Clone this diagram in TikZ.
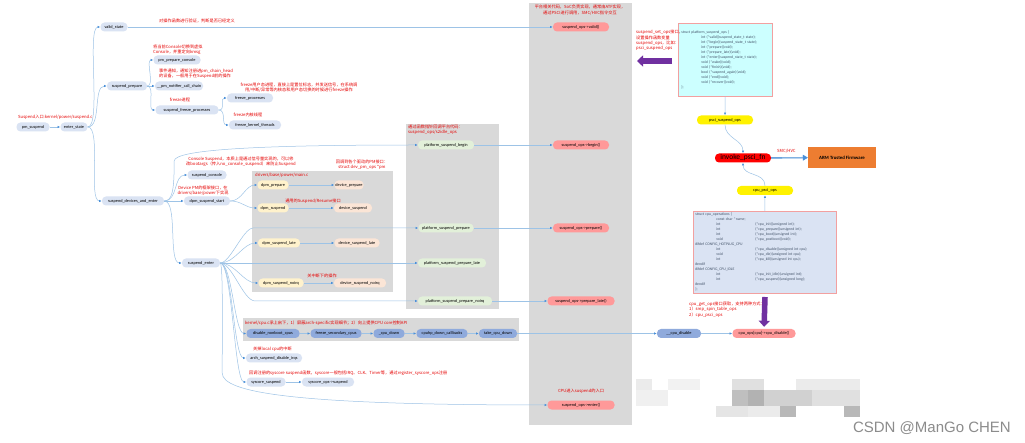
\documentclass[tikz,border=0pt]{standalone}
\usepackage{fontspec}
\setmainfont{Carlito}
\newfontfamily\cjk{Noto Sans CJK SC}
\newfontfamily\wmfont{Liberation Sans}
\usetikzlibrary{arrows.meta}

\definecolor{fnblue}{HTML}{DAE3F3}
\definecolor{platgreen}{HTML}{E2F0D9}
\definecolor{opsred}{HTML}{FF9999}
\definecolor{dpmyellow}{HTML}{FFF2CC}
\definecolor{devpeach}{HTML}{FBE5D6}
\definecolor{cpublue}{HTML}{8FAADC}
\definecolor{boxgray}{HTML}{D9D9D9}
\definecolor{linkblue}{HTML}{9DC3E6}
\definecolor{tipblue}{HTML}{4A90D9}
\definecolor{notered}{HTML}{E60000}
\definecolor{arrowpurple}{HTML}{7030A0}
\definecolor{atforange}{HTML}{ED7D31}
\definecolor{structcyan}{HTML}{CCFFFF}
\definecolor{structedge}{HTML}{F2A0A0}
\definecolor{structtext}{HTML}{44546A}

\begin{document}
\begin{tikzpicture}[x=1pt,y=-1pt,
  fn/.style={rounded corners=4pt,minimum height=9pt,inner sep=0.5pt,font=\fontsize{4.3}{5}\selectfont,fill=#1},
  fn/.default=fnblue,
  note/.style={text=notered,font=\cjk\fontsize{4.2}{5.4}\selectfont,inner sep=0pt},
  link/.style={draw=linkblue,line width=0.5pt,-{Latex[length=2.6pt,width=2.2pt,color=tipblue]}},
  mm/.style={out=0,in=180,distance=#1},
  grp/.style={fill=boxgray},
  structbox/.style={draw=structedge,line width=0.6pt,font=\fontsize{3.8}{5}\selectfont,text=structtext,inner ysep=0pt,align=left,anchor=north west},
  fatarrow/.style={draw=arrowpurple,line width=5.5pt,-{Triangle[length=6pt,width=11pt]}}]

\useasboundingbox (0,0) rectangle (1025,443);
\fill[white] (0,0) rectangle (1025,443);

% grey groups
\fill[grp] (529,3) rectangle (632,425);
\fill[grp] (406,124) rectangle (499,309);
\fill[grp] (252,171) rectangle (393,292);
\fill[grp] (243,318) rectangle (519,341);

% call tree
\node[fn,minimum width=33] (pmsus) at (33,127) {pm\_suspend};
\node[fn,minimum width=27] (enter) at (74,127) {enter\_state};
\node[fn,minimum width=27] (valid) at (114,27) {valid\_state};
\node[fn,minimum width=40] (sprep) at (127,86) {suspend\_prepare};
\node[fn,minimum width=47] (ppcon) at (177,60) {pm\_prepare\_console};
\node[fn,minimum width=48] (notif) at (179,86) {\_\_pm\_notifier\_call\_chain};
\node[fn,minimum width=63] (sfp) at (187,110) {suspend\_freeze\_processes};
\node[fn,minimum width=46] (fproc) at (250,98) {freeze\_processes};
\node[fn,minimum width=52] (fkt) at (255,125) {freeze\_kernel\_threads};
\node[fn,minimum width=62] (sdae) at (133,201) {suspend\_devices\_and\_enter};
\node[fn,minimum width=39] (scon) at (207,175) {suspend\_console};
\node[fn,minimum width=46] (dss) at (207,201) {dpm\_suspend\_start};
\node[fn,minimum width=38] (senter) at (201,263) {suspend\_enter};
\node[fn,minimum width=56] (arch) at (274,358) {arch\_suspend\_disable\_irqs};
\node[fn,minimum width=39] (sys) at (266,382) {syscore\_suspend};
\node[fn,minimum width=52] (sysops) at (328,382) {syscore\_ops->suspend};

\node[fn=dpmyellow,minimum width=31] (dprep) at (273,185) {dpm\_prepare};
\node[fn=dpmyellow,minimum width=31] (dsus) at (273,208) {dpm\_suspend};
\node[fn=dpmyellow,minimum width=42] (dlate) at (279,243) {dpm\_suspend\_late};
\node[fn=dpmyellow,minimum width=45] (dnoirq) at (281,283) {dpm\_suspend\_noirq};
\node[fn=devpeach,minimum width=29] (devprep) at (349,185) {device\_prepare};
\node[fn=devpeach,minimum width=38] (devsus) at (353,208) {device\_suspend};
\node[fn=devpeach,minimum width=45] (devlate) at (357,243) {device\_suspend\_late};
\node[fn=devpeach,minimum width=52] (devnoirq) at (360,283) {device\_suspend\_noirq};

\node[fn=platgreen,minimum width=56] (psb) at (446,145) {platform\_suspend\_begin};
\node[fn=platgreen,minimum width=55] (psp) at (446,228) {platform\_suspend\_prepare};
\node[fn=platgreen,minimum width=68] (pspl) at (452,263) {platform\_suspend\_prepare\_late};
\node[fn=platgreen,minimum width=74] (pspn) at (455,301) {platform\_suspend\_prepare\_noirq};

\node[fn=opsred,minimum width=56] (sovalid) at (581,27) {suspend\_ops->valid()};
\node[fn=opsred,minimum width=56] (sobegin) at (581,145) {suspend\_ops->begin()};
\node[fn=opsred,minimum width=56] (soprep) at (581,228) {suspend\_ops->prepare()};
\node[fn=opsred,minimum width=67] (soplate) at (581,301) {suspend\_ops->prepare\_late()};
\node[fn=opsred,minimum width=67] (soenter) at (581,405) {suspend\_ops->enter()};

\node[fn=cpublue,minimum width=53] (dnc) at (273,333.5) {disable\_nonboot\_cpus};
\node[fn=cpublue,minimum width=51] (fsc) at (336,333.5) {freeze\_secondary\_cpus};
\node[fn=cpublue,minimum width=31] (cdown) at (389,333.5) {\_cpu\_down};
\node[fn=cpublue,minimum width=51] (cpuhp) at (442,333.5) {cpuhp\_down\_callbacks};
\node[fn=cpublue,minimum width=38] (tcd) at (498,333.5) {take\_cpu\_down};
\node[fn=cpublue,minimum width=44] (ucd) at (679,333.5) {\_\_cpu\_disable};
\node[fn=opsred,minimum width=63] (cpuops) at (764,333.5) {cpu\_ops[cpu]->cpu\_disable()};

% arm64 side
\node[structbox,fill=structcyan,text width=88pt,inner xsep=3pt,minimum height=73] (psops) at (678,23) {struct platform\_suspend\_ops \{\\
\hspace*{20pt}int (*valid)(suspend\_state\_t state);\\
\hspace*{20pt}int (*begin)(suspend\_state\_t state);\\
\hspace*{20pt}int (*prepare)(void);\\
\hspace*{20pt}int (*prepare\_late)(void);\\
\hspace*{20pt}int (*enter)(suspend\_state\_t state);\\
\hspace*{20pt}void (*wake)(void);\\
\hspace*{20pt}void (*finish)(void);\\
\hspace*{20pt}bool (*suspend\_again)(void);\\
\hspace*{20pt}void (*end)(void);\\
\hspace*{20pt}void (*recover)(void);\\
\};};
\node[fn=yellow,minimum width=56] (psciops) at (725,120) {psci\_suspend\_ops};
\node[fn=red,minimum width=56,font=\fontsize{7.5}{8}\selectfont] (invoke) at (743,158) {invoke\_psci\_fn};
\node[fill=atforange,minimum width=68,minimum height=21,font=\bfseries\fontsize{4.8}{5}\selectfont] (atf) at (842,157.5) {ARM Trusted Firmware};
\node[fn=yellow,minimum width=56] (cpupsci) at (765,190.5) {cpu\_psci\_ops};
\node[structbox,fill=fnblue,text width=139pt,inner xsep=2pt,minimum height=82] (cpustruct) at (693,211) {%
\begin{tabular}{@{}p{21pt}@{}p{39pt}@{}l@{}}
\multicolumn{3}{@{}l@{}}{struct cpu\_operations \{}\\
& \multicolumn{2}{@{}l@{}}{const char *name;}\\
& int & (*cpu\_init)(unsigned int);\\
& int & (*cpu\_prepare)(unsigned int);\\
& int & (*cpu\_boot)(unsigned int);\\
& void & (*cpu\_postboot)(void);\\
\multicolumn{3}{@{}l@{}}{\#ifdef CONFIG\_HOTPLUG\_CPU}\\
& int & (*cpu\_disable)(unsigned int cpu);\\
& void & (*cpu\_die)(unsigned int cpu);\\
& int & (*cpu\_kill)(unsigned int cpu);\\
\multicolumn{3}{@{}l@{}}{\#endif}\\
\multicolumn{3}{@{}l@{}}{\#ifdef CONFIG\_CPU\_IDLE}\\
& int & (*cpu\_init\_idle)(unsigned int);\\
& int & (*cpu\_suspend)(unsigned long);\\
\multicolumn{3}{@{}l@{}}{\#endif}\\
\multicolumn{3}{@{}l@{}}{\};}
\end{tabular}};

% connectors
\draw[link] (pmsus) -- (enter);
\draw[link] (enter.east) to[mm=14pt] (valid.west);
\draw[link] (enter.east) to[mm=14pt] (sprep.west);
\draw[link] (enter.east) to[mm=14pt] (sdae.west);
\draw[link] (valid) -- (sovalid);
\draw[link] (sprep.east) to[mm=8pt] (ppcon.west);
\draw[link] (sprep) -- (notif);
\draw[link] (sprep.east) to[mm=8pt] (sfp.west);
\draw[link] (sfp.east) to[mm=8pt] (fproc.west);
\draw[link] (sfp.east) to[mm=8pt] (fkt.west);
\draw[link] (sdae.east) to[mm=14pt] (scon.west);
\draw[link] (sdae) -- (dss);
\draw[link] (sdae.east) to[mm=14pt] (senter.west);
\draw[link] (sdae.east) .. controls +(8,0) and +(0,30) .. ++(10,-40) .. controls +(0,-12) and +(-150,0) .. (psb.west);
\draw[link] (dss.east) to[mm=12pt] (dprep.west);
\draw[link] (dss.east) to[mm=12pt] (dsus.west);
\draw[link] (dprep) -- (devprep);
\draw[link] (dsus) -- (devsus);
\draw[link] (dlate) -- (devlate);
\draw[link] (dnoirq) -- (devnoirq);
\draw[link] (senter.east) .. controls +(10,0) and +(-10,0) .. ++(33,-35) -- (psp.west);
\draw[link] (senter.east) to[mm=15pt] (dlate.west);
\draw[link] (senter) -- (pspl);
\draw[link] (senter.east) to[mm=15pt] (dnoirq.west);
\draw[link] (senter.east) .. controls +(12,0) and +(-12,0) .. ++(35,38) -- (pspn.west);
\draw[link] (senter.east) to[mm=12pt] (dnc.west);
\draw[link] (senter.east) to[mm=12pt] (arch.west);
\draw[link] (senter.east) to[mm=12pt] (sys.west);
\draw[link] (senter.east) .. controls +(3,0) and +(0,-40) .. ++(2,110) .. controls +(0,20) and +(-250,0) .. (soenter.west);
\draw[link] (psb) -- (sobegin);
\draw[link] (psp) -- (soprep);
\draw[link] (pspn) -- (soplate);
\draw[link] (sys) -- (sysops);
\draw[link] (dnc) -- (fsc);
\draw[link] (fsc) -- (cdown);
\draw[link] (cdown) -- (cpuhp);
\draw[link] (cpuhp) -- (tcd);
\draw[link] (tcd) -- (ucd);
\draw[link] (ucd) -- (cpuops);
\draw[link] (psops) -- (psciops);
\draw[link] (psciops.south) .. controls +(0,14) and +(0,-14) .. (invoke.north);
\draw[link] (cpupsci.north) .. controls +(0,-14) and +(0,14) .. (invoke.south);
\draw[link] (cpustruct) -- (cpupsci);
\draw[draw=tipblue,double=linkblue,double distance=0.6pt,-{Triangle[length=5pt,width=6pt]}] (invoke) -- (atf);

\coordinate (ltail) at (672,61);
\coordinate (lhead) at (637,61);
\draw[fatarrow] (ltail) -- (lhead);
\coordinate (dtail) at (765,297);
\draw[fatarrow,shorten >=2pt] (dtail) -- (cpuops.north);

% notes
\node[note,anchor=west] (n1) at (18,117) {Suspend入口:kernel/power/suspend.c};
\node[note,anchor=west] (n2) at (159,21) {对操作函数进行验证，判断是否已经定义};
\node[note,anchor=west,align=left] (n3) at (153,49.5) {将当前Console切换到虚拟\\Console，并重定向kmsg};
\node[note,anchor=west,align=left] (n4) at (159,74) {事件通知，通知注册进pm\_chain\_head\\的设备，一般用于在Suspend前的操作};
\node[note] (n5) at (180,100) {freeze进程};
\node[note,align=center] (n6) at (299,87.5) {freeze用户态进程，直接上是置位标志，并发送信号，在系统调\\用/中断/异常等内核态和用户态切换的时候进行freeze操作};
\node[note] (n7) at (248,115) {freeze内核线程};
\node[note,align=center] (n8) at (241,161.5) {Console Suspend，本质上是通过信号量实现的，可以修\\改bootargs（传入no\_console\_suspend）来防止Suspend};
\node[note,align=center] (n9) at (203,190.5) {Device PM的框架接口，在\\drivers/base/power下实现};
\node[note,anchor=west] (n10) at (255,175) {drivers/base/power/main.c};
\node[note,align=center] (n11) at (362,164.5) {回调到各个驱动的PM接口：\\struct dev\_pm\_ops *pm};
\node[note] (n12) at (313,201) {通用的Suspend/Resume接口};
\node[note] (n13) at (322,276) {关中断下的操作};
\node[note,anchor=west,align=left] (n14) at (408,130) {通过函数指针回调平台代码：\\suspend\_ops/s2idle\_ops};
\node[note,align=center] (n15) at (580,10) {平台相关代码，SoC负责实现，通常由ATF实现，\\通过PSCI进行调用，SMC/HVC指令交互};
\node[note,anchor=west,align=left] (n16) at (636,40.5) {suspend\_set\_ops接口，\\设置操作函数变量\\suspend\_ops，比如：\\psci\_suspend\_ops};
\node[note,anchor=west] (n17) at (777,151) {SMC/HVC};
\node[note,anchor=west] (n18) at (245,323) {kernel/cpu.c承上启下，1）屏蔽arch-specific实现细节；2）向上提供CPU core控制API};
\node[note,anchor=west] (n19) at (253,349) {关掉local cpu的中断};
\node[note,anchor=west] (n20) at (249,373) {回调注册的syscore suspend函数，syscore一般包括IRQ、CLK、Timer等，通过register\_syscore\_ops注册};
\node[note] (n21) at (581,391) {CPU进入suspend的入口};
\node[note,anchor=west,align=left] (n22) at (689,309.5) {cpu\_get\_ops接口获取，支持两种方式：\\1）smp\_spin\_table\_ops\\2）cpu\_psci\_ops};

% blurred mark
\foreach \mx/\my/\mw/\mh/\mg in {636/379/16/11/8, 668/379/32/11/5, 732/379/32/11/12, 796/379/64/11/8,
  636/390/32/16/6, 732/390/16/16/25, 748/390/16/16/30, 764/390/48/16/18, 812/390/48/16/12,
  716/406/32/11/10, 748/406/32/11/8, 780/406/16/11/28, 844/406/16/11/28}
  \fill[black!\mg] (\mx,\my) rectangle ++(\mw,\mh);
\node[anchor=east,text=black!45,font=\wmfont\fontsize{15}{15}\selectfont,inner sep=0pt] (mark) at (1011,428) {CSDN @ManGo CHEN};
\end{tikzpicture}
\end{document}
